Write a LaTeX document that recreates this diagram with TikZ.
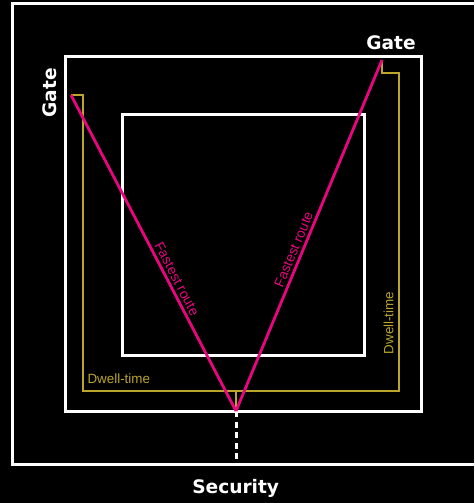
\documentclass[tikz,border=0pt]{standalone}
\usepackage{fontspec}
\setmainfont{Liberation Sans}
\newfontfamily\headfont{DejaVu Sans}
\definecolor{routepink}{HTML}{E8057F}
\definecolor{dwellgold}{HTML}{BBA52B}
\begin{document}
\begin{tikzpicture}[x=1pt,y=-1pt,
  wall/.style={draw=white,line width=3pt},
  route/.style={draw=routepink,line width=2.8pt},
  dwell/.style={draw=dwellgold,line width=1.6pt},
  head/.style={text=white,font=\headfont\bfseries\fontsize{18.6}{20}\selectfont,inner sep=0pt},
  small/.style={font=\fontsize{13.4}{15}\selectfont,inner sep=0pt},
  routelabel/.style={text=routepink,font=\fontsize{13.8}{15}\selectfont,inner sep=2.5pt,sloped,above}]
\fill[black] (0,0) rectangle (474,503);
\useasboundingbox (0,0) rectangle (474,503);
% walls
\draw[wall] (12,4) rectangle (490,464);
\draw[wall] (65,57) rectangle (421,411);
\draw[wall] (122,114) rectangle (364,355);
% key points
\coordinate (gL) at (71,95);
\coordinate (gR) at (382,60);
\coordinate (apex) at (236,411);
\coordinate (exit) at (236,464);
\coordinate (dj) at (236,391);
% security passage
\draw[draw=white,line width=3pt,dash pattern=on 6pt off 4.5pt] (apex) -- (exit);
% dwell-time path
\draw[dwell] (gL) -- (83,95) -- (83,391) -- (399,391) -- (399,73) -- (382,73) -- (gR);
\draw[dwell] (dj) -- (apex);
% fastest routes
\draw[route] (gL) -- node[routelabel,pos=0.595] {Fastest route} (apex);
\draw[route] (apex) -- node[routelabel,pos=0.45] {Fastest route} (gR);
% labels
\node[head,anchor=base] (gateR) at (391,49.3) {Gate};
\node[head,anchor=base,rotate=90] (gateL) at (56,93) {Gate};
\node[head,anchor=base] (sec) at (235.7,493.3) {Security};
\node[small,text=dwellgold,anchor=base west] (dwL) at (87.3,383.3) {Dwell-time};
\node[small,text=dwellgold,anchor=base,rotate=90] (dwR) at (393.3,323) {Dwell-time};
\end{tikzpicture}
\end{document}
